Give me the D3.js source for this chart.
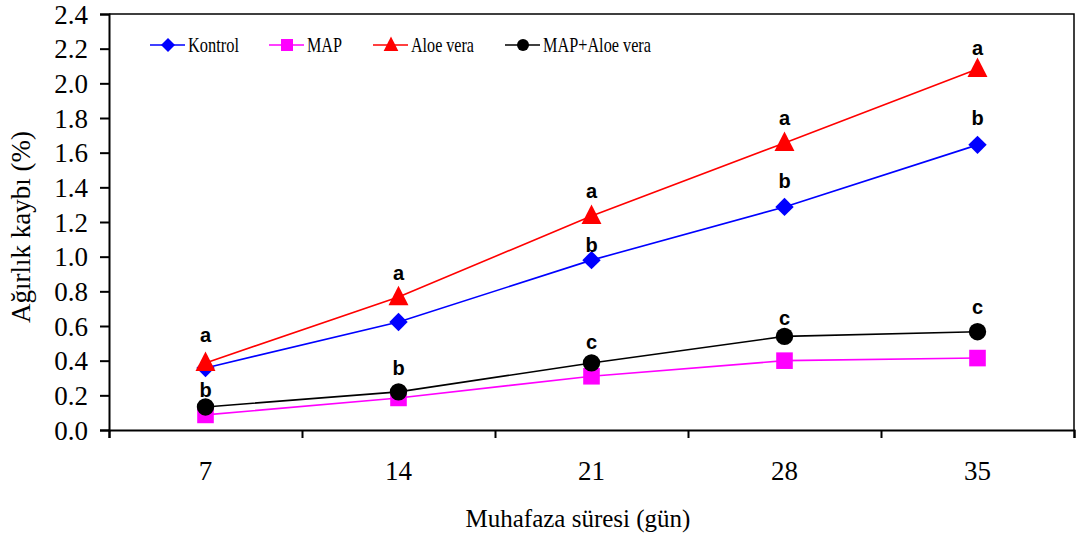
<!DOCTYPE html>
<html>
<head>
<meta charset="utf-8">
<script src="https://cdn.jsdelivr.net/npm/d3@7"></script>
<style>
  html, body { margin: 0; padding: 0; background: #fff; }
  svg { display: block; }
</style>
</head>
<body>
<svg id="chart" width="1080" height="538"></svg>
<script>
// ---- data ----
const categories = ["7", "14", "21", "28", "35"];
const kontrol = [0.358, 0.623, 0.98, 1.287, 1.645];
const map = [0.087, 0.185, 0.31, 0.40, 0.415];
const aloeVera = [0.387, 0.767, 1.235, 1.656, 2.083];
const mapAloeVera = [0.133, 0.22, 0.387, 0.54, 0.567];
const seriesNames = ["Kontrol", "MAP", "Aloe vera", "MAP+Aloe vera"];
const yTicks = [0, 0.2, 0.4, 0.6, 0.8, 1.0, 1.2, 1.4, 1.6, 1.8, 2.0, 2.2, 2.4];
// significance letters (category, letter, value where letter sits)
const labelCats = ["7", "7", "14", "14", "21", "21", "21", "28", "28", "28", "35", "35", "35"];
const labelLetters = ["a", "b", "a", "b", "a", "b", "c", "a", "b", "c", "a", "b", "c"];
const labelValues = [0.508, 0.19, 0.866, 0.317, 1.339, 1.027, 0.467, 1.76, 1.396, 0.606, 2.164, 1.76, 0.669];

(function () {
// ---- layout ----
const svg = d3.select("#chart");
const pLeft = 109, pRight = 1074, pTop = 14, pBottom = 430;

const x = d3.scaleBand().domain(categories).range([pLeft, pRight]).padding(0);
const xEdge = d3.scaleLinear().domain([0, categories.length]).range([pLeft, pRight]);
const y = d3.scaleLinear().domain([0, 2.4]).range([pBottom, pTop]);

const serif = "'Liberation Serif', 'Times New Roman', serif";
const sans = "'Liberation Sans', Arial, sans-serif";

// frame top/right
svg.append("path")
  .attr("d", `M${pLeft},${pTop}H${pRight}V${pBottom}`)
  .attr("fill", "none").attr("stroke", "#000").attr("stroke-width", 1.5);

// y axis
const yAxis = svg.append("g").attr("transform", `translate(${pLeft},0)`)
  .call(d3.axisLeft(y).tickValues(yTicks).tickFormat(d3.format(".1f")).tickSize(9).tickPadding(12));
yAxis.select(".domain").attr("stroke-width", 2);
yAxis.selectAll(".tick line").attr("stroke-width", 2);
yAxis.selectAll("text").attr("font-family", serif).attr("font-size", 27).attr("fill", "#000").attr("dy", "0.34em");

// x axis boundary ticks
const xAxisEdge = svg.append("g").attr("transform", `translate(0,${pBottom})`)
  .call(d3.axisBottom(xEdge).tickValues(d3.range(categories.length + 1)).tickFormat("").tickSize(8));
xAxisEdge.select(".domain").attr("stroke-width", 2);
xAxisEdge.selectAll(".tick line").attr("stroke-width", 2);

// x labels
const xAxis = svg.append("g").attr("transform", `translate(0,${pBottom})`)
  .call(d3.axisBottom(x).tickSize(0).tickPadding(31));
xAxis.select(".domain").remove();
xAxis.selectAll("text").attr("font-family", serif).attr("font-size", 27).attr("fill", "#000");

// axis titles
svg.append("text")
  .attr("x", 578).attr("y", 527)
  .attr("text-anchor", "middle")
  .attr("font-family", serif).attr("font-size", 25)
  .text("Muhafaza süresi (gün)");
svg.append("text")
  .attr("transform", `translate(30,227) rotate(-90)`)
  .attr("text-anchor", "middle")
  .attr("font-family", serif).attr("font-size", 27)
  .text("Ağırlık kaybı (%)");

// markers
function markerPath(type, s) {
  if (type === "diamond") return `M0,${-s}L${s},0L0,${s}L${-s},0Z`;
  if (type === "square") return `M${-s},${-s}H${s}V${s}H${-s}Z`;
  if (type === "triangle") return `M0,${-s * 1.2}L${s * 1.05},${s * 0.85}H${-s * 1.05}Z`;
  return `M${s},0A${s},${s},0,1,1,${-s},0A${s},${s},0,1,1,${s},0Z`;
}

const seriesValues = [kontrol, map, aloeVera, mapAloeVera];
const colors = ["#0000FF", "#FF00FF", "#FF0000", "#000000"];
const shapes = ["diamond", "square", "triangle", "circle"];
const plotSizes = [9.2, 8.3, 9.5, 8.7];
const legendSizes = [7, 6, 7, 6];

const cx = c => x(c) + x.bandwidth() / 2;
const line = d3.line().x((d, i) => cx(categories[i])).y(d => y(d));

seriesValues.forEach((vals, k) => {
  const g = svg.append("g");
  g.append("path").datum(vals).attr("d", line)
    .attr("fill", "none").attr("stroke", colors[k]).attr("stroke-width", 1.6);
  g.selectAll("path.m").data(vals).join("path").attr("class", "m")
    .attr("transform", (d, i) => `translate(${cx(categories[i])},${y(d)})`)
    .attr("d", markerPath(shapes[k], plotSizes[k]))
    .attr("fill", colors[k]);
});

// significance letters
svg.append("g").selectAll("text").data(labelLetters).join("text")
  .attr("x", (d, i) => cx(labelCats[i]))
  .attr("y", (d, i) => y(labelValues[i]))
  .attr("text-anchor", "middle")
  .attr("font-family", sans).attr("font-weight", "bold").attr("font-size", 20)
  .attr("fill", "#000")
  .text(d => d);

// legend
const legendX = [150, 269, 373, 505];
const legendTextLen = [51, 35, 63, 108];
const legendY = 45;
seriesNames.forEach((name, k) => {
  const g = svg.append("g").attr("transform", `translate(${legendX[k]},${legendY})`);
  g.append("line").attr("x1", 0).attr("x2", 35).attr("y1", 0).attr("y2", 0)
    .attr("stroke", colors[k]).attr("stroke-width", 1.6);
  g.append("path").attr("transform", "translate(18,0)")
    .attr("d", markerPath(shapes[k], legendSizes[k])).attr("fill", colors[k]);
  g.append("text").attr("x", 38).attr("y", 7)
    .attr("font-family", serif).attr("font-size", 22)
    .attr("textLength", legendTextLen[k]).attr("lengthAdjust", "spacingAndGlyphs")
    .text(name);
});
})();
</script>
</body>
</html>
